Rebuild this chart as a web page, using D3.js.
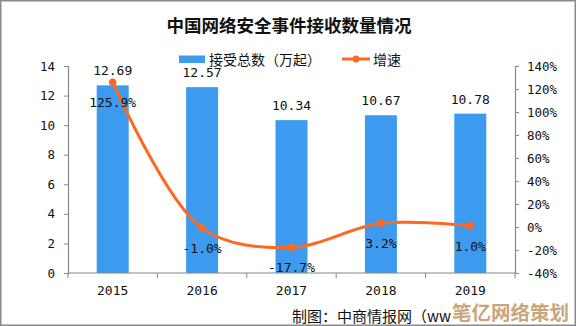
<!DOCTYPE html>
<html><head><meta charset="utf-8">
<script src="https://cdn.jsdelivr.net/npm/d3@7"></script>
<style>body{margin:0;background:#fff}svg{display:block}</style>
</head><body><svg id="c" width="576" height="326"></svg>
<script>
const categories = ["2015","2016","2017","2018","2019"];
const totals = [12.69, 12.57, 10.34, 10.67, 10.78];
const growth = [125.9, -1.0, -17.7, 3.2, 1.0];
const leftTicks = [0,2,4,6,8,10,12,14];
const rightTicks = [-40,-20,0,20,40,60,80,100,120,140];
const title = "中国网络安全事件接收数量情况";
const legendBar = "接受总数（万起）";
const legendLine = "增速";
const footer = "制图：中商情报网（ww";
const overlay = "笔亿网络策划";

const svg = d3.select("#c");
const W=576,H=326;
const m={l:68,r:61,t:66,b:53};
const barColor="#3d9bef", lineColor="#ff6822";
const numFont="'DejaVu Sans Mono', monospace";
const cjk="'Noto Sans CJK SC', sans-serif";

svg.append("rect").attr("x",0.75).attr("y",0.75).attr("width",W-1.5).attr("height",H-1.5)
  .attr("fill","#fff").attr("stroke","#8a8a8a").attr("stroke-width",1.5);

const x=d3.scaleBand().domain(categories).range([m.l,W-m.r]).paddingInner(0).paddingOuter(0);
const yL=d3.scaleLinear().domain([0,14]).range([H-m.b,m.t]);
const yR=d3.scaleLinear().domain([-40,140]).range([H-m.b,m.t]);

// title
svg.append("text").attr("x",289).attr("y",32).attr("text-anchor","middle")
  .attr("font-family",cjk).attr("font-weight","bold").attr("font-size",17.5).attr("fill","#111").text(title);

// legend
svg.append("rect").attr("x",179).attr("y",55.5).attr("width",26).attr("height",7.5).attr("fill",barColor);
svg.append("text").attr("x",209).attr("y",64.5).attr("font-family",cjk).attr("font-size",14).attr("fill","#111").text(legendBar);
svg.append("line").attr("x1",342).attr("x2",370).attr("y1",59).attr("y2",59).attr("stroke",lineColor).attr("stroke-width",3);
svg.append("circle").attr("cx",356).attr("cy",59).attr("r",3.5).attr("fill",lineColor);
svg.append("text").attr("x",373).attr("y",64.5).attr("font-family",cjk).attr("font-size",14).attr("fill","#111").text(legendLine);

// bars
const bw = 32;
svg.append("g").selectAll("rect").data(categories).join("rect")
  .attr("x",(d)=>x(d)+x.bandwidth()/2-bw/2).attr("width",bw)
  .attr("y",(d,i)=>yL(totals[i])).attr("height",(d,i)=>yL(0)-yL(totals[i]))
  .attr("fill",barColor);

// axes
const axisColor="#888";
const gL=svg.append("g").attr("transform",`translate(${m.l},0)`)
  .call(d3.axisLeft(yL).tickValues(leftTicks).tickSize(4).tickPadding(9));
const gR=svg.append("g").attr("transform",`translate(${W-m.r},0)`)
  .call(d3.axisRight(yR).tickValues(rightTicks).tickSize(4).tickPadding(8).tickFormat(d=>d+"%"));
const gB=svg.append("g").attr("transform",`translate(0,${H-m.b})`)
  .call(d3.axisBottom(x).tickSize(0).tickPadding(13));
const bounds=categories.map(c=>x(c)).concat([x(categories[categories.length-1])+x.bandwidth()]);
gB.selectAll("line.bt").data(bounds).join("line").attr("class","bt")
  .attr("x1",d=>d).attr("x2",d=>d).attr("y1",0).attr("y2",5).attr("stroke",axisColor);
[gL,gR,gB].forEach(g=>{
  g.select(".domain").attr("stroke",axisColor).attr("stroke-width",1.2);
  g.selectAll(".tick line").attr("stroke",axisColor);
  g.selectAll("text").attr("font-family",numFont).attr("font-size",12.5).attr("fill","#111");
});
gB.select(".domain").attr("d",`M${m.l},0H${W-m.r}`);
gB.selectAll("text").attr("font-size",13);

// value labels
svg.append("g").selectAll("text").data(categories).join("text")
  .attr("x",d=>x(d)+x.bandwidth()/2).attr("y",(d,i)=>yL(totals[i])-10)
  .attr("text-anchor","middle").attr("font-family",numFont).attr("font-size",13).attr("fill","#111")
  .text((d,i)=>totals[i].toFixed(2));

// line
const pts=categories.map((c,i)=>[x(c)+x.bandwidth()/2,yR(growth[i])]);
svg.append("path").attr("d",d3.line().curve(d3.curveCatmullRom.alpha(0.5))(pts))
  .attr("fill","none").attr("stroke",lineColor).attr("stroke-width",3);
svg.append("g").selectAll("circle").data(pts).join("circle")
  .attr("cx",d=>d[0]).attr("cy",d=>d[1]).attr("r",3.8).attr("fill",lineColor);
svg.append("g").selectAll("text").data(categories).join("text")
  .attr("x",d=>x(d)+x.bandwidth()/2).attr("y",(d,i)=>yR(growth[i])+25)
  .attr("text-anchor","middle").attr("font-family",numFont).attr("font-size",13).attr("fill","#111")
  .text((d,i)=>growth[i].toFixed(1)+"%");

// footer
svg.append("text").attr("x",292).attr("y",322).attr("font-family",cjk).attr("font-size",15).attr("fill","#111").text(footer);
svg.append("text").attr("x",452).attr("y",320).attr("font-family",cjk).attr("font-weight","bold").attr("font-size",19.5)
  .attr("fill","#c9a57a").text(overlay);
</script></body></html>
